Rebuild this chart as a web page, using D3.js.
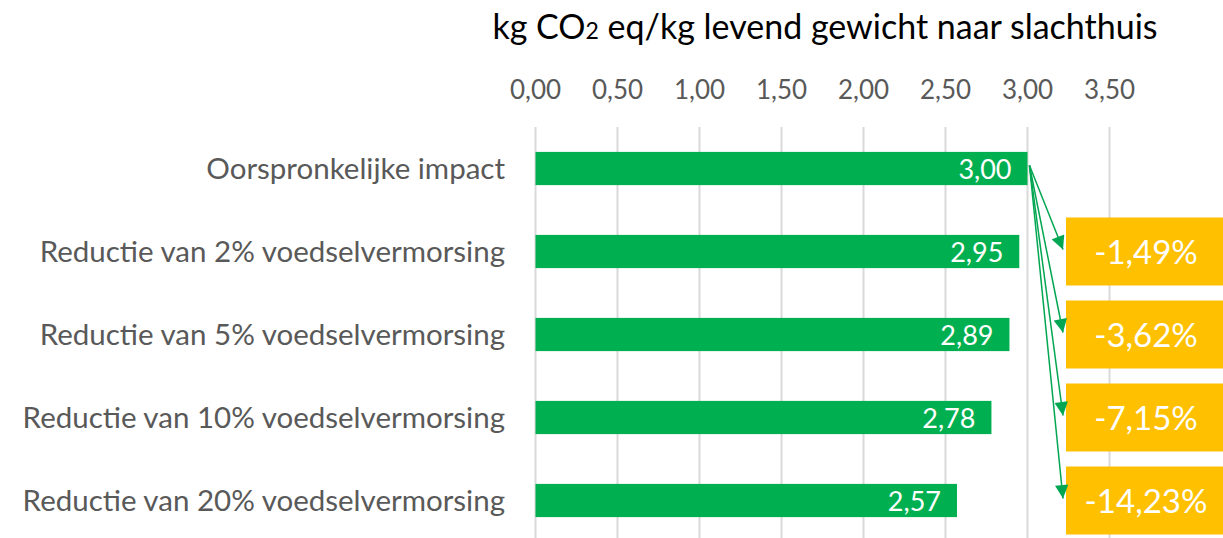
<!DOCTYPE html>
<html>
<head>
<meta charset="utf-8">
<script src="https://cdn.jsdelivr.net/npm/d3@7"></script>
<style>
  html, body { margin: 0; padding: 0; background: #fff; }
  svg { display: block; font-family: Lato, 'Open Sans', sans-serif; }
</style>
</head>
<body>
<svg id="chart" width="1223" height="538"></svg>
<script>
const categories = [
  'Oorspronkelijke impact',
  'Reductie van 2% voedselvermorsing',
  'Reductie van 5% voedselvermorsing',
  'Reductie van 10% voedselvermorsing',
  'Reductie van 20% voedselvermorsing'
];
const impact = [3.00, 2.95, 2.89, 2.78, 2.57];
const reductions = [-1.49, -3.62, -7.15, -14.23];
const ticks = [0, 0.5, 1, 1.5, 2, 2.5, 3, 3.5];

const nl = d3.formatLocale({ decimal: ',', thousands: '.', grouping: [3], currency: ['€', ''], minus: '-' });
const fmt = nl.format('.2f');

const svg = d3.select('#chart');
const width = 1223, height = 538;

const x = d3.scaleLinear().domain([0, 3.5]).range([535.5, 1109.5]);
const y = d3.scaleBand().domain(categories).range([127, 542])
  .paddingInner(0.6).paddingOuter(0.3);
const mid = (c) => y(c) + y.bandwidth() / 2;

// title, CO2 with a smaller 2
const title = svg.append('text')
  .attr('x', 825).attr('y', 39)
  .attr('text-anchor', 'middle')
  .attr('font-size', 34).attr('fill', '#000');
title.append('tspan').text('kg CO');
title.append('tspan').attr('font-size', 23).text('2');
title.append('tspan').text(' eq/kg levend gewicht naar slachthuis');

// gridlines
svg.append('g').selectAll('line')
  .data(ticks).join('line')
  .attr('x1', (d) => x(d)).attr('x2', (d) => x(d))
  .attr('y1', 127).attr('y2', height)
  .attr('stroke', '#d9d9d9').attr('stroke-width', 2);

// top axis labels
svg.append('g').selectAll('text')
  .data(ticks).join('text')
  .attr('x', (d) => x(d)).attr('y', 99)
  .attr('text-anchor', 'middle')
  .attr('font-size', 26).attr('fill', '#595959')
  .text((d) => fmt(d));

// category labels
svg.append('g').selectAll('text')
  .data(categories).join('text')
  .attr('x', 505).attr('y', (d) => mid(d) + 10)
  .attr('text-anchor', 'end')
  .attr('font-size', 29.5).attr('fill', '#595959')
  .text((d) => d);

// bars
const rows = categories.map((c, i) => ({ cat: c, v: impact[i] }));
svg.append('g').selectAll('rect')
  .data(rows).join('rect')
  .attr('x', x(0)).attr('y', (d) => y(d.cat))
  .attr('width', (d) => x(d.v) - x(0)).attr('height', y.bandwidth())
  .attr('fill', '#00b050');

svg.append('g').selectAll('text')
  .data(rows).join('text')
  .attr('x', (d) => x(d.v) - 16).attr('y', (d) => mid(d.cat) + 10)
  .attr('text-anchor', 'end')
  .attr('font-size', 27).attr('fill', '#fff')
  .text((d) => fmt(d.v));

// percentage boxes
const boxX = 1066, boxW = 160, boxH = 68;
const boxes = reductions.map((r, i) => ({ cat: categories[i + 1], r: r }));
svg.append('g').selectAll('rect')
  .data(boxes).join('rect')
  .attr('x', boxX).attr('y', (d) => mid(d.cat) - boxH / 2)
  .attr('width', boxW).attr('height', boxH)
  .attr('fill', '#ffc000');

svg.append('g').selectAll('text')
  .data(boxes).join('text')
  .attr('x', boxX + 80).attr('y', (d) => mid(d.cat) + 12)
  .attr('text-anchor', 'middle')
  .attr('font-size', 33).attr('fill', '#fff')
  .text((d) => fmt(d.r) + '%');

// arrows from the original bar to each box
svg.append('defs').append('marker')
  .attr('id', 'head')
  .attr('viewBox', '0 0 10 10')
  .attr('refX', 10).attr('refY', 5)
  .attr('markerWidth', 10).attr('markerHeight', 9)
  .attr('markerUnits', 'strokeWidth')
  .attr('orient', 'auto')
  .append('path').attr('d', 'M0,0L10,5L0,10Z').attr('fill', '#00a651');

const x0 = x(impact[0]) + 2, y0 = mid(categories[0]) - 3;
svg.append('g').selectAll('line')
  .data(boxes).join('line')
  .attr('x1', x0).attr('y1', y0)
  .attr('x2', boxX - 3).attr('y2', (d) => mid(d.cat) - 2)
  .attr('stroke', '#00a651').attr('stroke-width', 1.5)
  .attr('marker-end', 'url(#head)');
</script>
</body>
</html>
